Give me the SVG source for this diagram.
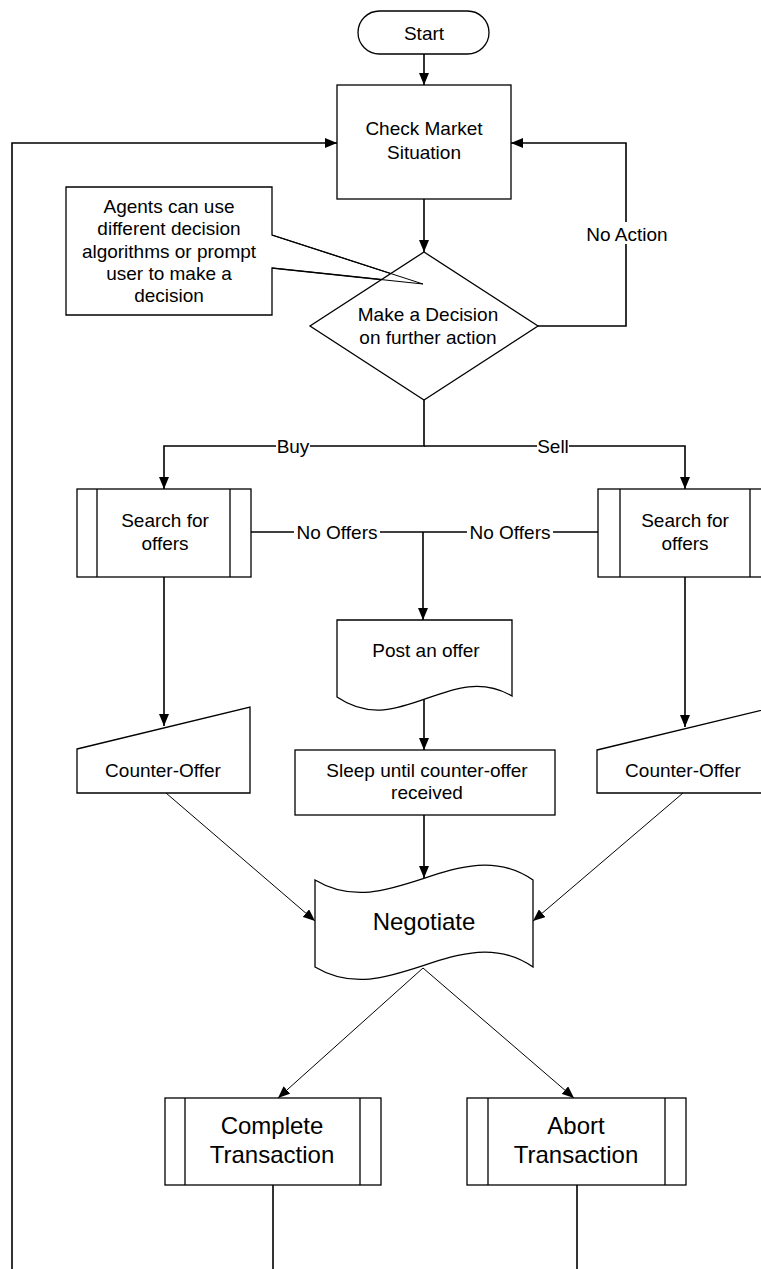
<svg xmlns="http://www.w3.org/2000/svg" width="761" height="1269" viewBox="0 0 761 1269">
<defs>
<marker id="ah" markerUnits="userSpaceOnUse" markerWidth="12" markerHeight="10" refX="12" refY="5" orient="auto">
<path d="M0,0 L12,5 L0,10 Z" fill="#000"/>
</marker>
<style>
.s{fill:#fff;stroke:#000;stroke-width:1.3}
.c{fill:none;stroke:#000;stroke-width:1.6}
.d{fill:none;stroke:#000;stroke-width:1}
.t{font-family:"Liberation Sans",Arial,sans-serif;font-size:19px;fill:#000;text-anchor:middle}
.b{font-size:24px}
.bg{fill:#fff;stroke:none}
</style>
</defs>
<rect width="761" height="1269" fill="#fff"/>
<g id="connectors">
<path class="c" d="M424,54 V85" marker-end="url(#ah)"/>
<path class="c" d="M424,199 V252" marker-end="url(#ah)"/>
<path class="c" d="M538,326 H626 V143 H511" marker-end="url(#ah)"/>
<path class="c" d="M12,1269 V143 H337" marker-end="url(#ah)"/>
<path class="c" d="M424,400 V446 H164 V489" marker-end="url(#ah)"/>
<path class="c" d="M424,446 H685 V489" marker-end="url(#ah)"/>
<path class="c" d="M251,532 H598"/>
<path class="c" d="M423,532 V620" marker-end="url(#ah)"/>
<path class="c" d="M164,577 V726" marker-end="url(#ah)"/>
<path class="c" d="M685,577 V727" marker-end="url(#ah)"/>
<path class="c" d="M424,698 V750" marker-end="url(#ah)"/>
<path class="c" d="M424,815 V878" marker-end="url(#ah)"/>
<path class="d" d="M166,793 L315,921" marker-end="url(#ah)"/>
<path class="d" d="M683,793 L533,921" marker-end="url(#ah)"/>
<path class="d" d="M423,968 L278,1098" marker-end="url(#ah)"/>
<path class="d" d="M423,968 L574,1098" marker-end="url(#ah)"/>
<path class="c" d="M273,1185 V1269"/>
<path class="c" d="M577,1185 V1269"/>
<rect class="bg" x="592" y="222" width="70" height="22"/>
<text class="t" x="627" y="241">No Action</text>
<rect class="bg" x="276" y="435" width="34" height="22"/>
<text class="t" x="293" y="453">Buy</text>
<rect class="bg" x="537" y="435" width="32" height="22"/>
<text class="t" x="553" y="453">Sell</text>
<rect class="bg" x="294" y="521" width="86" height="22"/>
<text class="t" x="337" y="539">No Offers</text>
<rect class="bg" x="467" y="521" width="86" height="22"/>
<text class="t" x="510" y="539">No Offers</text>
</g>
<g id="start">
<rect class="s" x="358" y="11" width="131" height="43" rx="21.5"/>
<text class="t" x="424" y="40">Start</text>
</g>
<g id="check">
<rect class="s" x="337" y="85" width="174" height="114"/>
<text class="t" x="424" y="135">Check Market</text>
<text class="t" x="424" y="159">Situation</text>
</g>
<g id="callout">
<path class="s" d="M272,268 L272,315 L66,315 L66,187 L272,187 L272,235 L423,284 Z"/>
<text class="t" x="169" y="213">Agents can use</text>
<text class="t" x="169" y="235">different decision</text>
<text class="t" x="169" y="258">algorithms or prompt</text>
<text class="t" x="169" y="280">user to make a</text>
<text class="t" x="169" y="302">decision</text>
</g>
<g id="decision">
<polygon class="s" points="424,252 538,326 424,400 310,326"/>
<path class="d" d="M272,235 L423,284 L272,268"/>
<text class="t" x="428" y="321">Make a Decision</text>
<text class="t" x="428" y="344">on further action</text>
</g>
<g id="search-buy">
<rect class="s" x="77" y="489" width="174" height="88"/>
<path class="s" d="M97,489 V577 M230,489 V577"/>
<text class="t" x="165" y="527">Search for</text>
<text class="t" x="165" y="550">offers</text>
</g>
<g id="search-sell">
<rect class="s" x="598" y="489" width="174" height="88"/>
<path class="s" d="M620,489 V577 M750,489 V577"/>
<text class="t" x="685" y="527">Search for</text>
<text class="t" x="685" y="550">offers</text>
</g>
<g id="post">
<path class="s" d="M337,620 H512 V696 C450,660 400,740 337,697 Z"/>
<text class="t" x="426" y="657">Post an offer</text>
</g>
<g id="sleep">
<rect class="s" x="295" y="750" width="260" height="65"/>
<text class="t" x="427" y="777">Sleep until counter-offer</text>
<text class="t" x="427" y="799">received</text>
</g>
<g id="counter-buy">
<polygon class="s" points="77,749 250,707 250,793 77,793"/>
<text class="t" x="163" y="777">Counter-Offer</text>
</g>
<g id="counter-sell">
<polygon class="s" points="597,750 771,708 771,793 597,793"/>
<text class="t" x="683" y="777">Counter-Offer</text>
</g>
<g id="negotiate">
<path class="s" d="M315,880 C390,925 460,830 533,880 L533,967 C460,917 390,1012 315,967 Z"/>
<text class="t b" x="424" y="930">Negotiate</text>
</g>
<g id="complete">
<rect class="s" x="165" y="1098" width="216" height="87"/>
<path class="s" d="M185,1098 V1185 M360,1098 V1185"/>
<text class="t b" x="272" y="1134">Complete</text>
<text class="t b" x="272" y="1163">Transaction</text>
</g>
<g id="abort">
<rect class="s" x="467" y="1098" width="219" height="87"/>
<path class="s" d="M488,1098 V1185 M665,1098 V1185"/>
<text class="t b" x="576" y="1134">Abort</text>
<text class="t b" x="576" y="1163">Transaction</text>
</g>
</svg>
